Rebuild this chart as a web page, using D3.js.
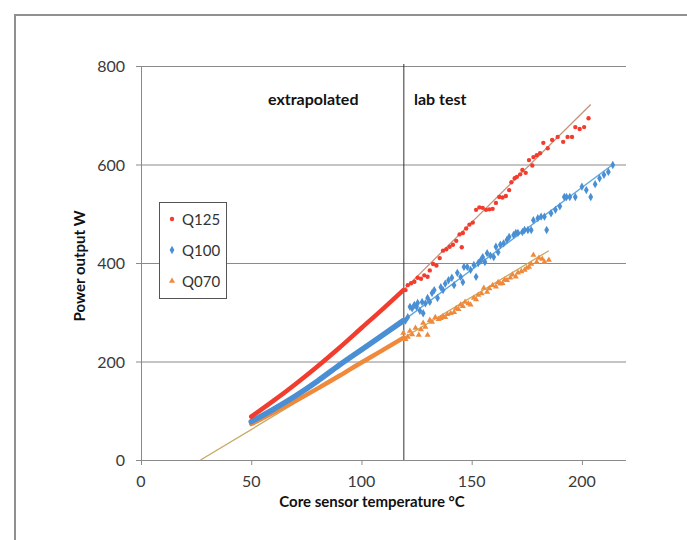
<!DOCTYPE html>
<html>
<head>
<meta charset="utf-8">
<script src="https://cdn.jsdelivr.net/npm/d3@7/dist/d3.min.js"></script>
<style>
	body { margin: 0; background: #fff; }
	svg { display: block; font-family: Lato, 'Open Sans', sans-serif; }
	.tick-label { fill: #3a3a3a; font-size: 16px; }
	.axis-title { fill: #111; font-size: 15px; font-weight: bold; }
	.zone-label { fill: #111; font-size: 16px; font-weight: bold; }
	.legend-label { fill: #333; font-size: 15px; }
</style>
</head>
<body>
<div id="chart"></div>
<script>
// Axis ticks
var xTicks = [0, 50, 100, 150, 200];
var yTicks = [0, 200, 400, 600, 800];

// Extrapolated part (temperature, W)
var extTemp = [50, 60, 70, 80, 90, 100, 110, 119];
var extQ125 = [88, 120, 154, 190, 228, 268, 308, 345];
var extQ100 = [78, 103, 130, 160, 193, 224, 255, 283];
var extQ070 = [73, 96, 120, 145, 171, 198, 224, 248];

// Lab test points [temperature, W]
var labQ125 = [
	[120, 345], [121, 355], [122.5, 359], [124, 362], [125.5, 370], [127, 368], [128.5, 375],
	[130, 372], [131, 385], [132.5, 398], [134, 395], [135.5, 410], [137, 425], [138.5, 428],
	[140, 433], [141.5, 437], [143, 445], [144.5, 458], [145.5, 432], [146, 461], [147.5, 470],
	[149, 478], [150.5, 482], [152, 508], [153.5, 513], [155, 512], [156.5, 508], [158, 509],
	[159.5, 510], [161, 522], [162.5, 534], [164, 533], [165.5, 536], [167, 548], [168, 564],
	[169.5, 572], [170.5, 575], [172, 580], [173, 589], [174.5, 583], [176, 609], [177.5, 598],
	[178, 615], [179.5, 619], [181, 623], [182.5, 644], [184.5, 633], [186.5, 650], [189, 656],
	[191.5, 646], [193.5, 656], [195.5, 656], [197, 676], [199, 672], [201, 676], [203, 694]
];
var labQ100 = [
	[120, 283], [121, 290], [122, 311], [123, 308], [124, 315], [125, 311], [125.5, 319],
	[126.5, 303], [127.5, 321], [128, 298], [129, 318], [130, 329], [131, 321], [132, 339],
	[133, 345], [134.5, 329], [136, 351], [137, 345], [138, 358], [139.5, 365], [141, 370],
	[142, 355], [143.5, 380], [145, 372], [146, 361], [146.5, 392], [148, 392], [149.5, 386],
	[151, 396], [152, 372], [153, 400], [154, 405], [155, 412], [156, 402], [157, 420],
	[158.5, 415], [160, 412], [161, 433], [162, 422], [163, 437], [164.5, 440], [166, 447],
	[167, 453], [169, 457], [170, 461], [171, 461], [173, 463], [174, 467], [175.5, 467],
	[177, 467], [178, 487], [180, 491], [181.5, 494], [183, 494], [184, 467], [186, 501],
	[188, 508], [190, 515], [192, 534], [193, 534], [194.5, 534], [197, 534], [200, 555],
	[202, 548], [204, 534], [206, 560], [208, 572], [210, 579], [212, 585], [214, 599]
];
var labQ070 = [
	[119, 258], [120, 245], [121, 250], [122, 262], [123, 255], [124.5, 268], [126, 254],
	[127, 265], [128, 278], [129, 270], [130, 254], [131, 284], [132, 280], [133.5, 290],
	[135, 286], [136, 288], [137, 292], [138, 290], [139, 296], [140.5, 298], [142, 300],
	[143, 308], [144, 306], [145, 315], [146, 312], [147, 321], [148.5, 318], [149.5, 315],
	[151, 329], [152, 326], [153, 335], [154.5, 338], [155.5, 349], [157, 341], [158, 348],
	[159.5, 355], [161, 352], [162, 361], [163, 358], [164, 359], [165, 366], [166, 365],
	[167.5, 370], [168.5, 376], [170, 372], [171, 380], [172.5, 383], [174, 386], [175, 390],
	[176, 392], [177, 398], [178, 416], [179.5, 402], [180.5, 410], [182, 408], [183, 402],
	[185, 406]
];

// Linear fits, end points [temperature, W]
var fitQ125 = [[119, 345], [204, 722]];
var fitQ100 = [[119, 283], [214, 600]];
var fitQ070 = [[27, 0], [185, 425]];

var labBoundary = 119;

var seriesNames = ['Q125', 'Q100', 'Q070'];
var seriesColors = ['#f23c2e', '#4a8fd3', '#ef8a3d'];
var fitColors = ['#c4937a', '#5fa6de', '#c6a860'];

/*
 * Render
 */
var width = 687;
var height = 540;

var svg = d3.select('#chart')
	.append('svg')
	.attr('width', width)
	.attr('height', height);

// outer frame, runs off the right and bottom edges
svg.append('rect')
	.attr('x', 15)
	.attr('y', 15)
	.attr('width', 800)
	.attr('height', 800)
	.attr('fill', 'none')
	.attr('stroke', '#909090')
	.attr('stroke-width', 2);

var xScale = d3.scaleLinear().domain([0, 220]).range([141, 626]);
var yScale = d3.scaleLinear().domain([0, 800]).range([460, 66]);

// grid
svg.append('g')
	.selectAll('line')
	.data(yTicks)
	.enter()
	.append('line')
	.attr('x1', xScale(0) - 5)
	.attr('x2', xScale(220))
	.attr('y1', function(d) { return yScale(d) + 0.5; })
	.attr('y2', function(d) { return yScale(d) + 0.5; })
	.attr('stroke', '#8a8a8a')
	.attr('stroke-width', 1);

// y axis line
svg.append('line')
	.attr('x1', xScale(0) + 0.5)
	.attr('x2', xScale(0) + 0.5)
	.attr('y1', yScale(0))
	.attr('y2', yScale(800))
	.attr('stroke', '#8a8a8a');

// x ticks
svg.append('g')
	.selectAll('line')
	.data(xTicks)
	.enter()
	.append('line')
	.attr('x1', function(d) { return xScale(d) + 0.5; })
	.attr('x2', function(d) { return xScale(d) + 0.5; })
	.attr('y1', yScale(0))
	.attr('y2', yScale(0) + 5)
	.attr('stroke', '#8a8a8a');

svg.append('g')
	.selectAll('text')
	.data(xTicks)
	.enter()
	.append('text')
	.attr('class', 'tick-label')
	.attr('x', function(d) { return xScale(d); })
	.attr('y', yScale(0) + 27)
	.attr('text-anchor', 'middle')
	.text(function(d) { return d; });

svg.append('g')
	.selectAll('text')
	.data(yTicks)
	.enter()
	.append('text')
	.attr('class', 'tick-label')
	.attr('x', xScale(0) - 16)
	.attr('y', function(d) { return yScale(d) + 6; })
	.attr('text-anchor', 'end')
	.text(function(d) { return d; });

// axis titles
svg.append('text')
	.attr('class', 'axis-title')
	.attr('x', 372)
	.attr('y', 507)
	.attr('text-anchor', 'middle')
	.text('Core sensor temperature \u00B0C');

svg.append('text')
	.attr('class', 'axis-title')
	.attr('transform', 'translate(85,' + 266 + ') rotate(-90)')
	.attr('text-anchor', 'middle')
	.text('Power output W');

// lab boundary
svg.append('line')
	.attr('x1', xScale(labBoundary) + 0.5)
	.attr('x2', xScale(labBoundary) + 0.5)
	.attr('y1', yScale(0))
	.attr('y2', yScale(800) - 2)
	.attr('stroke', '#333')
	.attr('stroke-width', 1);

svg.append('text')
	.attr('class', 'zone-label')
	.attr('x', 268)
	.attr('y', 105)
	.text('extrapolated');

svg.append('text')
	.attr('class', 'zone-label')
	.attr('x', 414)
	.attr('y', 105)
	.text('lab test');

var line = d3.line()
	.x(function(d) { return xScale(d[0]); })
	.y(function(d) { return yScale(d[1]); });

var smoothLine = d3.line()
	.curve(d3.curveMonotoneX)
	.x(function(d) { return xScale(d[0]); })
	.y(function(d) { return yScale(d[1]); });

// fits
var fits = [fitQ125, fitQ100, fitQ070];
fits.forEach(function(f, i) {
	svg.append('path')
		.attr('d', line(f))
		.attr('fill', 'none')
		.attr('stroke', fitColors[i])
		.attr('stroke-width', 1.3);
});

// extrapolated curves (dense markers drawn as a thick line)
var extSeries = [extQ125, extQ100, extQ070];
var extWidths = [4.5, 5.5, 4.5];
[2, 1, 0].forEach(function(i) {
	var pts = extTemp.map(function(t, j) { return [t, extSeries[i][j]]; });
	svg.append('path')
		.attr('d', smoothLine(pts))
		.attr('fill', 'none')
		.attr('stroke', seriesColors[i])
		.attr('stroke-width', extWidths[i])
		.attr('stroke-linecap', 'round');
});

// markers
var symbols = [d3.symbolCircle, d3.symbolDiamond, d3.symbolTriangle];
var symSizes = [15, 20, 16];
var labSeries = [labQ125, labQ100, labQ070];

[2, 1, 0].forEach(function(i) {
	svg.append('g')
		.selectAll('path')
		.data(labSeries[i])
		.enter()
		.append('path')
		.attr('transform', function(d) {
			return 'translate(' + xScale(d[0]) + ',' + yScale(d[1]) + ')';
		})
		.attr('d', d3.symbol().type(symbols[i]).size(symSizes[i]))
		.attr('fill', seriesColors[i]);
});

// legend
var legend = svg.append('g').attr('transform', 'translate(159,202)');

legend.append('rect')
	.attr('x', 0.5)
	.attr('y', 0.5)
	.attr('width', 67)
	.attr('height', 96)
	.attr('fill', '#fff')
	.attr('stroke', '#555');

seriesNames.forEach(function(name, i) {
	var cy = 17 + i * 31;
	legend.append('path')
		.attr('transform', 'translate(13,' + cy + ')')
		.attr('d', d3.symbol().type(symbols[i]).size(symSizes[i]))
		.attr('fill', seriesColors[i]);
	legend.append('text')
		.attr('class', 'legend-label')
		.attr('x', 23)
		.attr('y', cy + 5.5)
		.text(name);
});
</script>
</body>
</html>
